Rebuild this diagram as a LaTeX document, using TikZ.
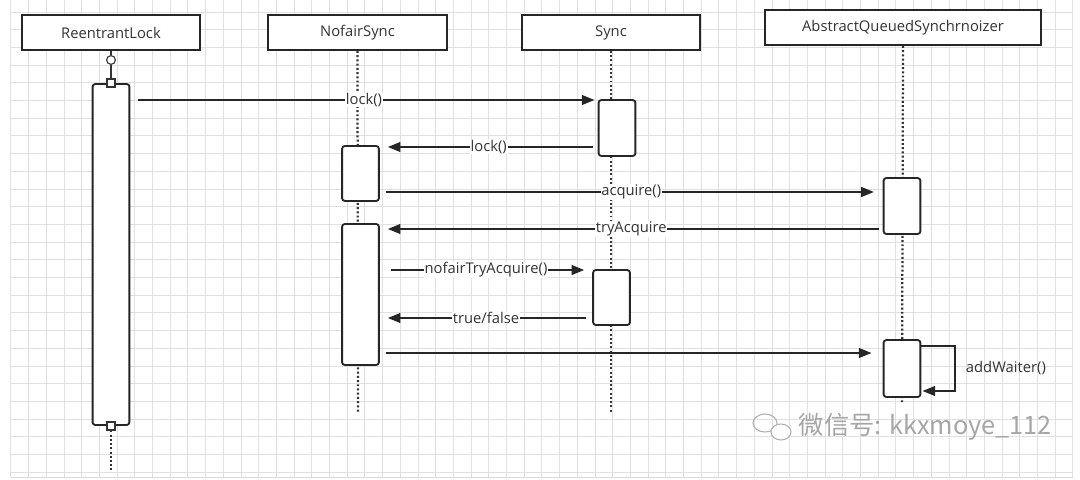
\documentclass[tikz,border=0pt]{standalone}
\usepackage{fontspec}
\setmainfont{Open Sans}
\newfontfamily\cjkfont{Noto Sans CJK SC}
\usetikzlibrary{arrows.meta}

\begin{document}
\begin{tikzpicture}[x=0.025cm,y=-0.025cm,
    every node/.style={font=\fontsize{10.5}{12}\selectfont, text=black!80},
    header/.style={draw=black!85, line width=1.4pt, fill=white, minimum width=4.45cm, minimum height=0.875cm, inner sep=0pt},
    act/.style={draw=black!85, line width=1.3pt, fill=white, rounded corners=2pt, minimum width=0.92cm, inner sep=0pt},
    life/.style={black!80, line width=1.6pt, dash pattern=on 1.4pt off 1.6pt},
    msg/.style={black!85, line width=1.2pt, -{Triangle[length=9pt,width=7pt]}, shorten <=0.15cm, shorten >=0.2cm},
    lbl/.style={fill=white, inner sep=0.5pt}]

    \useasboundingbox (0,0) rectangle (1080,480);

    %background grid
    \foreach \i in {0,...,60}
      \draw[gray!24, line width=0.6pt] ({10.9+17.7*\i},0) -- ({10.9+17.7*\i},477);
    \foreach \j in {0,...,26}
      \draw[gray!24, line width=0.6pt] (10.9,{12+17.7*\j}) -- (1073,{12+17.7*\j});
    \draw[gray!30, line width=0.7pt] (10.9,477) -- (1073,477);

    %participants
    \node[header] (rl) at (111,32.5) {ReentrantLock};
    \node[header] (nf) at (357.5,32.5) {NofairSync};
    \node[header] (sy) at (611,32.5) {Sync};
    \node[header, minimum width=6.9cm] (aqs) at (903,27.5) {AbstractQueuedSynchrnoizer};

    %lifelines
    \coordinate (rlEnd) at (111,470);
    \coordinate (nfEnd) at (358,412);
    \coordinate (syEnd) at (611,412);
    \coordinate (aqsEnd) at (902,402);
    \draw[life] (nf.south) -- (nfEnd);
    \draw[life] (sy.south) -- (syEnd);
    \draw[life] (aqs.south) -- (aqsEnd);

    %activations
    \node[act, minimum height=8.525cm] (rlA) at (111,254.5) {};
    \node[act, minimum height=1.4cm] (syA1) at (617,128) {};
    \node[act, minimum height=1.375cm] (nfA1) at (360.5,173.5) {};
    \node[act, minimum height=1.4cm] (aqA1) at (902,206) {};
    \node[act, minimum height=3.525cm] (nfA2) at (360.5,294.5) {};
    \node[act, minimum height=1.375cm] (syA2) at (611.5,297.5) {};
    \node[act, minimum height=1.425cm] (aqA2) at (902,368.5) {};

    %ReentrantLock start and end marks
    \node[circle, draw=black!80, fill=white, line width=0.8pt, minimum size=0.22cm, inner sep=0pt] (rlC) at (111,60) {};
    \node[draw=black!80, fill=white, line width=0.8pt, minimum size=0.2cm, inner sep=0pt] (rlT) at (rlA.north) {};
    \node[draw=black!80, fill=white, line width=0.8pt, minimum size=0.2cm, inner sep=0pt] (rlB) at (rlA.south) {};
    \draw[black!80, line width=0.8pt] (rl.south) -- (rlC);
    \draw[black!80, line width=0.8pt] (rlC) -- (rlT);
    \draw[life] (rlB) -- (rlEnd);

    %messages
    \draw[msg, shorten <=0.18cm, shorten >=0.08cm] (rlA.east |- 0,100) -- (syA1.west |- 0,100) node[midway,lbl] {lock()};
    \draw[msg, shorten <=0.12cm] (syA1.west |- 0,147) -- (nfA1.east |- 0,147) node[midway,lbl] {lock()};
    \draw[msg, shorten >=0.22cm] (nfA1.east |- 0,192) -- (aqA1.west |- 0,192) node[midway,lbl] {acquire()};
    \draw[msg, shorten <=0.1cm] (aqA1.west |- 0,229) -- (nfA2.east |- 0,229) node[midway,lbl] {tryAcquire};
    \draw[msg, shorten <=0.28cm] (nfA2.east |- 0,270) -- (syA2.west |- 0,270) node[midway,lbl] {nofairTryAcquire()};
    \draw[msg] (syA2.west |- 0,318) -- (nfA2.east |- 0,318) node[midway,lbl] {true/false};
    \draw[msg, shorten <=0.15cm, shorten >=0.28cm] (nfA2.east |- 0,353) -- (aqA2.west |- 0,353);

    %self call
    \coordinate (loopA) at (955,346);
    \coordinate (loopB) at (955,391);
    \draw[msg, shorten <=0pt, shorten >=0.03cm] (aqA2.east |- loopA) -- (loopA) -- (loopB) -- (aqA2.east |- loopB);
    \node[anchor=west] (aw) at (961,368) {addWaiter()};

    %watermark
    \draw[gray!60, line width=0.8pt] (765,423) ellipse [x radius=12, y radius=9];
    \draw[gray!60, line width=0.8pt, fill=white] (781,432) ellipse [x radius=10, y radius=8];
    \node[anchor=west, text=gray!70, font=\cjkfont\fontsize{18}{21}\selectfont] (wm) at (794,427) {微信号: kkxmoye\_112};

\end{tikzpicture}
\end{document}
